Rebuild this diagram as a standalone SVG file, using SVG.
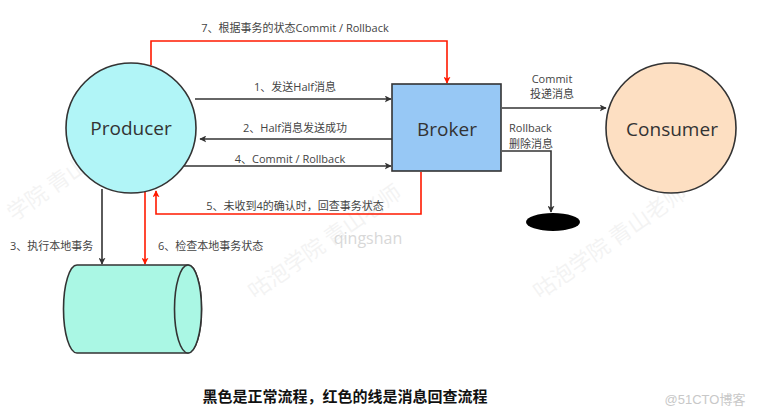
<svg xmlns="http://www.w3.org/2000/svg" width="758" height="415" viewBox="0 0 758 415">
<style>
.lbl{font-family:"Open Sans","Noto Sans CJK SC",sans-serif;font-size:11px;fill:#444}
.node{font-family:"Open Sans","Noto Sans CJK SC",sans-serif;font-size:19px;fill:#333}
.blk{fill:none;stroke:#333;stroke-width:1.6}
.red{fill:none;stroke:#ff1a00;stroke-width:1.6}
.wm{font-family:"Noto Sans CJK SC",sans-serif;font-size:22px;fill:#000;opacity:0.045}
</style>
<defs>
<marker id="ab" viewBox="0 0 10 10" refX="9" refY="5" markerWidth="7" markerHeight="7" orient="auto" markerUnits="userSpaceOnUse"><path d="M0,0 L10,5 L0,10 L2.5,5 Z" fill="#333"/></marker>
<marker id="ar" viewBox="0 0 10 10" refX="9" refY="5" markerWidth="7" markerHeight="7" orient="auto" markerUnits="userSpaceOnUse"><path d="M0,0 L10,5 L0,10 L2.5,5 Z" fill="#ff1a00"/></marker>
</defs>
<rect width="758" height="415" fill="#ffffff"/>
<g id="watermarks">
<text class="wm" transform="translate(14,222) rotate(-35)">学院 青山老师</text>
<text class="wm" transform="translate(255,300) rotate(-35)">咕泡学院 青山老师</text>
<text class="wm" transform="translate(540,300) rotate(-35)">咕泡学院 青山老师</text>
<text x="368" y="244" text-anchor="middle" font-family="Open Sans,sans-serif" font-size="16" fill="#d8d8d8">qingshan</text>
<text x="705" y="404" text-anchor="middle" font-family="Liberation Sans,Noto Sans CJK SC,sans-serif" font-size="13" fill="#c8c8c8">@51CTO博客</text>
</g>
<g id="connectors">
<polyline class="red" points="151,65 151,41 447,41 447,83" marker-end="url(#ar)"/>
<line class="blk" x1="195" y1="99" x2="391" y2="99" marker-end="url(#ab)"/>
<line class="blk" x1="392" y1="139" x2="200" y2="139" marker-end="url(#ab)"/>
<line class="blk" x1="184" y1="166" x2="391" y2="166" marker-end="url(#ab)"/>
<polyline class="red" points="421,172 421,214 156,214 156,191" marker-end="url(#ar)"/>
<line class="blk" x1="102" y1="189" x2="102" y2="264" marker-end="url(#ab)"/>
<line class="red" x1="145" y1="192" x2="145" y2="264" marker-end="url(#ar)"/>
<line class="blk" x1="502" y1="108" x2="606" y2="108" marker-end="url(#ab)"/>
<polyline class="blk" points="502,151 551,151 551,212" marker-end="url(#ab)"/>
<text class="lbl" x="295" y="32" text-anchor="middle">7、根据事务的状态Commit / Rollback</text>
<text class="lbl" x="295" y="91" text-anchor="middle">1、发送Half消息</text>
<text class="lbl" x="295" y="132" text-anchor="middle">2、Half消息发送成功</text>
<text class="lbl" x="290" y="163" text-anchor="middle">4、Commit / Rollback</text>
<text class="lbl" x="295" y="210" text-anchor="middle">5、未收到4的确认时，回查事务状态</text>
<text class="lbl" x="10" y="250">3、执行本地事务</text>
<text class="lbl" x="158" y="250">6、检查本地事务状态</text>
<text class="lbl" x="552" y="83" text-anchor="middle">Commit</text>
<text class="lbl" x="552" y="98" text-anchor="middle">投递消息</text>
<text class="lbl" x="509" y="132">Rollback</text>
<text class="lbl" x="509" y="148">删除消息</text>
</g>
<g id="producer">
<circle cx="131" cy="128" r="65" fill="#b1f5f7" stroke="#333" stroke-width="1.6"/>
<text class="node" x="131" y="135" text-anchor="middle">Producer</text>
</g>
<g id="broker">
<rect x="392" y="84" width="109" height="87" fill="#97c8f5" stroke="#333" stroke-width="1.6"/>
<text class="node" x="447" y="136" text-anchor="middle">Broker</text>
</g>
<g id="consumer">
<circle cx="671" cy="128" r="65" fill="#fddfc2" stroke="#333" stroke-width="1.6"/>
<text class="node" x="672" y="136" text-anchor="middle">Consumer</text>
</g>
<g id="database">
<path d="M77,265 L188,265 A13.5,44 0 0 1 188,353 L77,353 A13.5,44 0 0 1 77,265 Z" fill="#aaf7e4" stroke="#333" stroke-width="1.6"/>
<ellipse cx="188" cy="309" rx="13.5" ry="44" fill="#aaf7e4" stroke="#333" stroke-width="1.6"/>
</g>
<g id="discard">
<ellipse cx="553" cy="222" rx="27" ry="9" fill="#000"/>
</g>
<text x="345" y="402" text-anchor="middle" font-family="Noto Sans CJK SC,sans-serif" font-size="15" font-weight="bold" fill="#111">黑色是正常流程，红色的线是消息回查流程</text>
</svg>
